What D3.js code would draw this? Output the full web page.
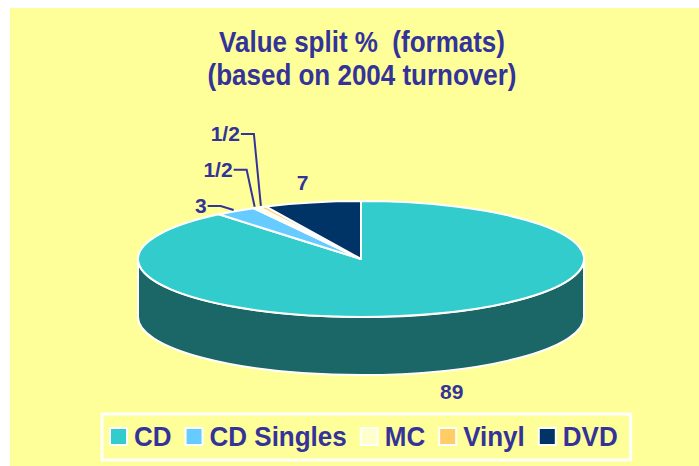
<!DOCTYPE html>
<html>
<head>
<meta charset="utf-8">
<script src="https://cdn.jsdelivr.net/npm/d3@7"></script>
<style>
  body { margin: 0; background: #fff; }
  svg text { font-family: "Liberation Sans", Arial, sans-serif; font-weight: bold; fill: #333399; white-space: pre; }
</style>
</head>
<body>
<div class="chart"></div>
<script>
const WIDTH = 699
const HEIGHT = 466

// data
const categories = ["CD", "CD Singles", "MC", "Vinyl", "DVD"]
const values = [89, 3, 0.5, 0.5, 7]
const valueLabels = ["89", "3", "1/2", "1/2", "7"]
const colors = ["#33CCCC", "#66CCFF", "#FFFFCC", "#FFCC66", "#003366"]
const sideColors = ["#1B6666", "#3D7A99", "#99997A", "#997A3D", "#001F3D"]
const titleLines = ["Value split %  (formats)", "(based on 2004 turnover)"]

const svg = d3.select("div.chart")
            .append("svg")
            .attr("width", WIDTH)
            .attr("height", HEIGHT);

// fond jaune
svg.append("rect")
   .attr("x", 10).attr("y", 8)
   .attr("width", WIDTH - 10).attr("height", HEIGHT - 8)
   .style("fill", "#FFFF99");

// titre
svg.selectAll("text.title")
   .data(titleLines)
   .enter()
   .append("text")
   .attr("class", "title")
   .attr("text-anchor", "middle")
   .attr("transform", (d, i) => `translate(362, ${52 + i * 33}) scale(1, 1.15)`)
   .style("font-size", "26px")
   .text(d => d);

// camembert 3D
const cx = 361, cy = 259, rx = 223, ry = 58, depth = 58;

const pie = d3.pie().sort(null).value(d => d.value);
const arcs = pie(categories.map((c, i) => ({ name: c, value: values[i], i: i })));

const arc = d3.arc().innerRadius(0).outerRadius(rx);

const pt = (a, dy = 0) => [cx + rx * Math.sin(a), cy - ry * Math.cos(a) + dy];

// côtés visibles (entre PI/2 et 3PI/2)
const sidePath = (a0, a1) => {
  const p0 = pt(a0), p1 = pt(a1), q1 = pt(a1, depth), q0 = pt(a0, depth);
  const large = (a1 - a0) > Math.PI ? 1 : 0;
  return `M${p0}A${rx},${ry} 0 ${large} 1 ${p1}L${q1}A${rx},${ry} 0 ${large} 0 ${q0}Z`;
};

svg.append("g").selectAll("path")
   .data(arcs.filter(d => d.endAngle > Math.PI / 2 && d.startAngle < 3 * Math.PI / 2))
   .enter()
   .append("path")
   .attr("d", d => sidePath(Math.max(d.startAngle, Math.PI / 2), Math.min(d.endAngle, 3 * Math.PI / 2)))
   .style("fill", d => sideColors[d.data.i])
   .style("stroke", "#fff")
   .style("stroke-width", 2)
   .style("stroke-linejoin", "round");

// dessus
svg.append("g")
   .attr("transform", `translate(${cx},${cy}) scale(1, ${ry / rx})`)
   .selectAll("path")
   .data(arcs)
   .enter()
   .append("path")
   .attr("d", arc)
   .style("fill", d => colors[d.data.i])
   .style("stroke", "#fff")
   .style("stroke-width", 2)
   .style("stroke-linejoin", "round")
   .attr("vector-effect", "non-scaling-stroke");

// étiquettes
// [dx, dy] du coude de la ligne de rappel, null = pas de ligne
const leaders = [null, [-13, -4], [-8, -37], [-7, -72], null];

arcs.forEach((d, k) => {
  const mid = (d.startAngle + d.endAngle) / 2;
  const lead = leaders[k];
  if (lead) {
    const e = pt(mid, 0);
    e[0] -= 2; e[1] -= 1;
    const b = [e[0] + lead[0], e[1] + lead[1]];
    const t = [b[0] - 13, b[1]];
    svg.append("polyline")
       .attr("points", [e, b, t].join(" "))
       .style("fill", "none")
       .style("stroke", "#333399")
       .style("stroke-width", 2);
    svg.append("text")
       .attr("x", t[0] - 1)
       .attr("y", t[1] + 7)
       .attr("text-anchor", "end")
       .style("font-size", "21px")
       .text(valueLabels[k]);
  } else {
    const front = Math.cos(mid) < 0;
    const p = pt(mid, front ? depth : 0);
    const lx = cx + (p[0] - cx) * 1.2;
    const ly = front ? p[1] + 27 : p[1] - 12;
    svg.append("text")
       .attr("x", lx)
       .attr("y", ly)
       .attr("text-anchor", "middle")
       .style("font-size", "21px")
       .text(valueLabels[k]);
  }
});

// légende
const legend = svg.append("g");
const box = legend.append("rect")
   .attr("y", 414).attr("height", 46)
   .style("fill", "none")
   .style("stroke", "#fff")
   .style("stroke-width", 3);

let x = 110;
categories.forEach((c, i) => {
  legend.append("rect")
     .attr("x", x).attr("y", 428)
     .attr("width", 17).attr("height", 17)
     .style("fill", colors[i])
     .style("stroke", "#fff")
     .style("stroke-width", 2);
  const t = legend.append("text")
     .attr("transform", `translate(${x + 24}, 446) scale(1, 1.08)`)
     .style("font-size", "26px")
     .text(c);
  x += 24 + t.node().getComputedTextLength() + 14;
});
box.attr("x", 102).attr("width", x - 14 + 13 - 102);
</script>
</body>
</html>
